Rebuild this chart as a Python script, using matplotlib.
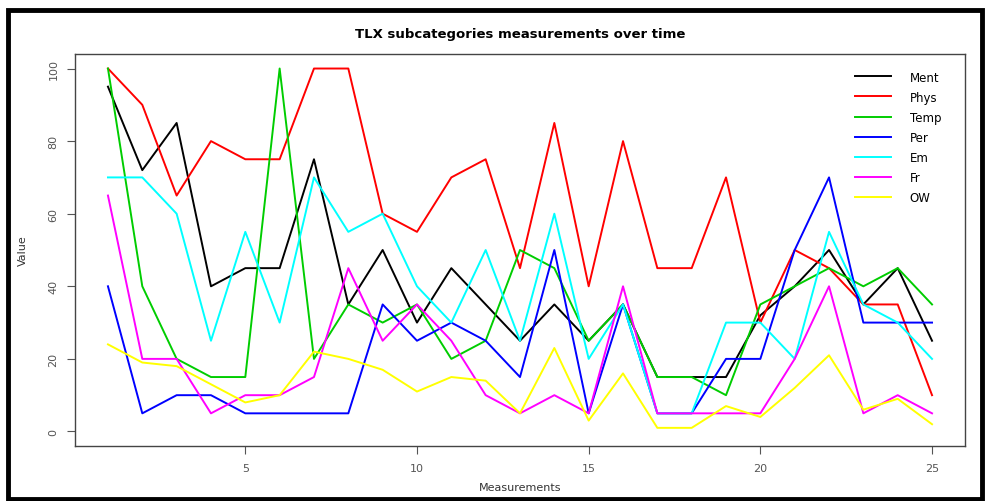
import matplotlib
matplotlib.use("Agg")
import matplotlib.pyplot as plt
from matplotlib.patches import Rectangle

# measurement index and TLX subcategory values
measurements = list(range(1, 26))
ment = [95, 72, 85, 40, 45, 45, 75, 35, 50, 30, 45, 35, 25, 35, 25, 35, 15, 15, 15, 32, 40, 50, 35, 45, 25]
phys = [100, 90, 65, 80, 75, 75, 100, 100, 60, 55, 70, 75, 45, 85, 40, 80, 45, 45, 70, 30, 50, 45, 35, 35, 10]
temp = [100, 40, 20, 15, 15, 100, 20, 35, 30, 35, 20, 25, 50, 45, 25, 35, 15, 15, 10, 35, 40, 45, 40, 45, 35]
per = [40, 5, 10, 10, 5, 5, 5, 5, 35, 25, 30, 25, 15, 50, 5, 35, 5, 5, 20, 20, 50, 70, 30, 30, 30]
em = [70, 70, 60, 25, 55, 30, 70, 55, 60, 40, 30, 50, 25, 60, 20, 35, 5, 5, 30, 30, 20, 55, 35, 30, 20]
fr = [65, 20, 20, 5, 10, 10, 15, 45, 25, 35, 25, 10, 5, 10, 5, 40, 5, 5, 5, 5, 20, 40, 5, 10, 5]
ow = [24, 19, 18, 13, 8, 10, 22, 20, 17, 11, 15, 14, 5, 23, 3, 16, 1, 1, 7, 4, 12, 21, 6, 9, 2]

labels = ['Ment', 'Phys', 'Temp', 'Per', 'Em', 'Fr', 'OW']
colors = ['#000000', '#ff0000', '#00cd00', '#0000ff', '#00ffff', '#ff00ff', '#ffff00']
series = [ment, phys, temp, per, em, fr, ow]

fig = plt.figure(figsize=(9.9, 5.02), dpi=100)
ax = fig.add_axes([75 / 990, 1 - 447 / 502, (965 - 75) / 990, (447 - 55) / 502])

for vals, lab, col in zip(series, labels, colors):
    ax.plot(measurements, vals, color=col, lw=1.4, label=lab)

ax.set_xlim(0.04, 25.96)
ax.set_ylim(-4, 104)
ax.set_xticks([5, 10, 15, 20, 25])
ax.set_yticks([0, 20, 40, 60, 80, 100])
ax.tick_params(colors='#555555', labelsize=8, length=6, pad=6)
for lbl in ax.get_yticklabels():
    lbl.set_rotation(90)
    lbl.set_va('center')
for sp in ax.spines.values():
    sp.set_color('#444444')
    sp.set_linewidth(1)

ax.set_xlabel('Measurements', fontsize=8, color='#333333', labelpad=7)
ax.set_ylabel('Value', fontsize=8, color='#333333', labelpad=15)
ax.set_title('TLX subcategories measurements over time', fontsize=9.5,
             fontweight='bold', pad=12)

ax.legend(loc='upper right', frameon=False, fontsize=8.5, handlelength=3.0,
          handletextpad=1.6, labelspacing=0.6, bbox_to_anchor=(0.985, 0.985))

# black frame around the whole picture
fig.patches.append(Rectangle((8 / 990, 2 / 502), 974 / 990, 489 / 502,
                             transform=fig.transFigure, fill=False,
                             edgecolor='black', lw=3.5))

fig.savefig('out.png', dpi=100)
